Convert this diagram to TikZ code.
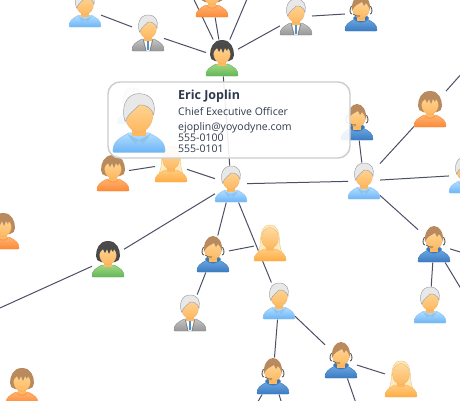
\documentclass[tikz,border=0pt]{standalone}
\usepackage{fontspec}
\setmainfont{Open Sans}
\usepackage{xcolor}
\usetikzlibrary{positioning}

\definecolor{linkc}{HTML}{4C5064}
\definecolor{cardedge}{HTML}{CCCCCC}
\definecolor{cardtxt}{HTML}{2F3A4C}
\definecolor{skintop}{HTML}{FFDA9E}
\definecolor{skinbot}{HTML}{FDB860}
\definecolor{skinedge}{HTML}{EDB06C}
\definecolor{greyhair}{HTML}{E8E8E8}
\definecolor{greyline}{HTML}{A4A4A4}
\definecolor{brownhair}{HTML}{B98A5E}
\definecolor{darkhair}{HTML}{4A4A4A}
\definecolor{blondehair}{HTML}{FDEBC0}
\definecolor{blondeline}{HTML}{EBC77E}
\definecolor{castop}{HTML}{B4DFFF}
\definecolor{casbot}{HTML}{6DB4F6}
\definecolor{casedge}{HTML}{8CC4F2}
\definecolor{castrim}{HTML}{8CC2EE}
\definecolor{suittop}{HTML}{C4C4C4}
\definecolor{suitbot}{HTML}{969696}
\definecolor{suitedge}{HTML}{8C8C8C}
\definecolor{orgtop}{HTML}{FFB272}
\definecolor{orgbot}{HTML}{FC8A36}
\definecolor{orgedge}{HTML}{F58A3C}
\definecolor{grntop}{HTML}{A2D482}
\definecolor{grnbot}{HTML}{62B858}
\definecolor{grnedge}{HTML}{5FB25A}
\definecolor{blntop}{HTML}{FFCC80}
\definecolor{blnbot}{HTML}{FFAC44}
\definecolor{blnedge}{HTML}{FAB15A}
\definecolor{headtop}{HTML}{6BA6E0}
\definecolor{headbot}{HTML}{3B7BC2}
\definecolor{headedge}{HTML}{3A78BC}
\definecolor{headhood}{HTML}{3C78BA}

% one person, drawn around its centre, 32 wide and 36 high
\newcommand{\iconbody}[3]{%
  \draw[draw=#3,line width=.4pt,top color=#1,bottom color=#2]
    (-16,17) .. controls (-16,12) and (-13,9.5) .. (-6,6) -- (6,6)
    .. controls (13,9.5) and (16,12) .. (16,17)
    .. controls (16,18) .. (15,18) -- (-15,18) .. controls (-16,18) .. (-16,17) -- cycle;}
\newcommand{\iconface}{%
  \fill[skinbot] (-4,2) rectangle (4,8);
  \draw[draw=skinedge,line width=.3pt,top color=skintop,bottom color=skinbot]
    (0,-5) ellipse [x radius=8.5,y radius=10.5];}
\newcommand{\icongrey}{%
  \draw[draw=greyline,line width=.5pt,fill=greyhair]
    (-8.5,-1) .. controls (-11,-8) and (-9,-18) .. (0,-18)
    .. controls (8,-18) and (10.5,-12) .. (9,-5)
    .. controls (7.5,-10) and (3,-11.5) .. (0,-11)
    .. controls (-2,-8) and (-6,-7) .. (-8.5,-1) -- cycle;}
\newcommand{\iconbob}[1]{%
  \fill[#1] (0,-18) .. controls (-9,-18) and (-12,-10) .. (-12,-3)
    .. controls (-12,0) and (-10,3) .. (-7,3) -- (7,3)
    .. controls (10,3) and (12,0) .. (12,-3)
    .. controls (12,-10) and (9,-18) .. (0,-18) -- cycle;
  \iconface
  \fill[#1] (-9,-3) .. controls (-9.5,-12) and (-5,-16) .. (0,-16)
    .. controls (5,-16) and (9.5,-12) .. (9,-3)
    .. controls (8,-7) and (7,-9) .. (6,-10) -- (5,-7) -- (3,-10) -- (1,-5) -- (-1,-10)
    -- (-3,-6) -- (-5,-10) .. controls (-7,-9) and (-8,-7) .. (-9,-3) -- cycle;}
\tikzset{
  pics/casual/.style={code={
    \iconbody{castop}{casbot}{casedge}
    \iconface
    \fill[castrim] (-7,7) -- (0,10.5) -- (-2.5,13) -- cycle (7,7) -- (0,10.5) -- (2.5,13) -- cycle;
    \icongrey}},
  pics/suit/.style={code={
    \iconbody{suittop}{suitbot}{suitedge}
    \fill[white] (-4,6) -- (4,6) -- (1.5,18) -- (-1.5,18) -- cycle;
    \fill[casbot!80!black] (-1.2,7) -- (1.2,7) -- (.8,11) -- (1.2,17) -- (-1.2,17) -- (-.8,11) -- cycle;
    \draw[black!55,line width=.4pt] (-5,6) -- (-2,18) (5,6) -- (2,18);
    \iconface
    \icongrey}},
  pics/orangelady/.style={code={
    \iconbody{orgtop}{orgbot}{orgedge}
    \iconbob{brownhair}
    \draw[orgedge,line width=.5pt] (-5,7) .. controls (-2,10) and (2,10) .. (5,7);}},
  pics/greenlady/.style={code={
    \iconbody{grntop}{grnbot}{grnedge}
    \iconbob{darkhair}}},
  pics/blonde/.style={code={
    \draw[draw=blondeline,line width=.4pt,fill=blondehair]
      (0,-18) .. controls (-8,-18) and (-9,-10) .. (-9.5,-2) .. controls (-10,3) and (-10.5,7) .. (-12,9)
      -- (12,9) .. controls (10.5,7) and (10,3) .. (9.5,-2) .. controls (9,-10) and (8,-18) .. (0,-18) -- cycle;
    \iconbody{blntop}{blnbot}{blnedge}
    \iconface}},
  pics/headset/.style={code={
    \iconbody{headtop}{headbot}{headedge}
    \fill[headhood] (-8,5) .. controls (-5,11) and (5,11) .. (8,5) -- (6,3) -- (-6,3) -- cycle;
    \fill[white] (-4,5) .. controls (-2,8) and (2,8) .. (4,5) -- cycle;
    \draw[black!65,line width=.9pt] (-9.5,-7) .. controls (-12,-3) and (-11,1) .. (-9,1);
    \draw[black!65,line width=.9pt] (9.5,-7) .. controls (12,-3) and (11,1) .. (9,1);
    \iconface
    \fill[brownhair] (-9,-2) .. controls (-10,-12) and (-5,-18) .. (0,-18)
      .. controls (5,-18) and (10,-12) .. (9,-2)
      .. controls (8,-6) and (7,-8) .. (5,-10) -- (3,-7) -- (1,-11)
      .. controls (-2,-9) and (-7,-8) .. (-9,-2) -- cycle;
    \draw[black!70,line width=.6pt] (-8,1) .. controls (-6,3) and (-3,3.5) .. (-1,3);}},
  person/.style={minimum width=32pt,minimum height=37pt,inner sep=0pt,outer sep=0pt},
  link/.style={linkc,line width=1pt},
  card/.style={draw=cardedge,line width=1.4pt,fill=white,fill opacity=.9,rounded corners=12pt,
    minimum width=242pt,minimum height=76pt,inner sep=0pt},
  cardname/.style={text=cardtxt,font=\fontsize{12.5}{14}\selectfont\bfseries,inner sep=0pt},
  cardinfo/.style={text=cardtxt,font=\fontsize{10.5}{11}\selectfont,align=left,inner sep=0pt}
}

\begin{document}
\begin{tikzpicture}[x=1pt,y=-1pt]
  \fill[white] (0,0) rectangle (460,400);
  \clip (0,0) rectangle (460,400);

  \foreach \nm/\px/\py in {cas1/85/9,suit1/148/33,olady1/212/-1,glady1/222/58,suit2/296/17,
      head1/361/13,head2/357/122,olady2/430/109,cas2/364/181,cas3/465/175,head3/434/244,
      cas4/430/305,cas5/279/301,head5/273/376,head6/341/360,blonde3/401/379,eric/231/184,
      blonde1/171/164,olady3/113/173,head4/213/254,blonde2/270/243,suit3/190/313,
      glady2/108/259,olady4/3/231,olady5/22/386,ghost/133/106}
    \node[person] (\nm) at (\px,\py) {};

  % free ends, outside the picture
  \coordinate (upl) at (187,-15);
  \coordinate (upr) at (253,-15);
  \coordinate (farne) at (480,53);
  \coordinate (fare) at (480,258);
  \coordinate (farse) at (475,312);
  \coordinate (farw) at (-20,317);
  \coordinate (fars) at (358,409);
  \coordinate (farsl) at (253,410);
  \coordinate (farsr) at (284,410);

  \draw[link] (cas1) -- (suit1);
  \draw[link] (suit1) -- (glady1);
  \draw[link] (olady1) -- (glady1);
  \draw[link] (glady1) -- (upl);
  \draw[link] (glady1) -- (upr);
  \draw[link] (glady1) -- (suit2);
  \draw[link] (suit2) -- (head1);
  \draw[link] (glady1) -- (eric);
  \draw[link] (olady2) -- (cas2);
  \draw[link] (olady2) -- (farne);
  \draw[link] (head2) -- (cas2);
  \draw[link] (eric) -- (cas2);
  \draw[link] (cas2) -- (cas3);
  \draw[link] (cas2) -- (head3);
  \draw[link] (head3) -- (cas4);
  \draw[link] (head3) -- (farse);
  \draw[link] (head3) -- (fare);
  \draw[link] (eric) -- (blonde1);
  \draw[link] (blonde1) -- (olady3);
  \draw[link] (eric) -- (glady2);
  \draw[link] (glady2) -- (farw);
  \draw[link] (eric) -- (head4);
  \draw[link] (eric) -- (cas5);
  \draw[link] (head4) -- (blonde2);
  \draw[link] (head4) -- (suit3);
  \draw[link] (cas5) -- (head5);
  \draw[link] (cas5) -- (head6);
  \draw[link] (head6) -- (blonde3);
  \draw[link] (head6) -- (fars);
  \draw[link] (head5) -- (farsl);
  \draw[link] (head5) -- (farsr);

  \foreach \nm in {cas1,cas2,cas3,cas4,cas5,eric,ghost} \pic at (\nm) {casual};
  \foreach \nm in {suit1,suit2,suit3} \pic at (\nm) {suit};
  \foreach \nm in {olady1,olady2,olady3,olady4,olady5} \pic at (\nm) {orangelady};
  \foreach \nm in {glady1,glady2} \pic at (\nm) {greenlady};
  \foreach \nm in {blonde1,blonde2,blonde3} \pic at (\nm) {blonde};
  \foreach \nm in {head1,head2,head3,head4,head5,head6} \pic at (\nm) {headset};

  % detail card over the network
  \node[card] (card) at (229,120) {};
  \pic[scale=1.63] at (139,123) {casual};
  \node[cardname,anchor=base west] (cname) at (178,99) {Eric Joplin};
  \node[cardinfo,anchor=base west] (ctitle) at (178,115) {Chief Executive Officer};
  \node[cardinfo,anchor=north west] (cinfo) at (178,122) {ejoplin@yoyodyne.com\\555-0100\\555-0101};
\end{tikzpicture}
\end{document}
